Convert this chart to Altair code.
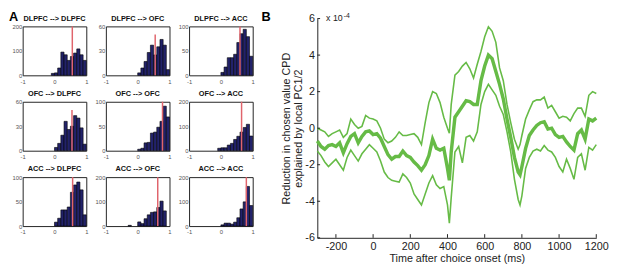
import altair as alt
import pandas as pd

FONT = "Liberation Sans"
NAVY = "#22226a"
RED = "#e0646c"
GREEN = "#66bb46"
AXC = "#222222"

# ---------------- Panel A data ----------------
TITLES = ["DLPFC --> DLPFC", "DLPFC --> OFC", "DLPFC --> ACC",
          "OFC --> DLPFC", "OFC --> OFC", "OFC --> ACC",
          "ACC --> DLPFC", "ACC --> OFC", "ACC --> ACC"]
BIN_STARTS = [-0.3, -0.2, -0.1, 0.0, 0.1, 0.2, 0.3, 0.4, 0.5, 0.6, 0.7, 0.8, 0.9]
BIN_WIDTH = 0.1
COUNTS = [
    [0, 0, 8, 10, 30, 95, 84, 61, 77, 91, 108, 84, 61],
    [0, 0, 0, 3, 9, 17, 28, 37, 25, 35, 44, 37, 7],
    [0, 0, 0, 6, 17, 36, 36, 43, 67, 85, 94, 79, 39],
    [0, 0, 0, 4, 9, 19, 36, 26, 30, 43, 40, 28, 8],
    [0, 0, 0, 3, 5, 16, 17, 36, 38, 48, 60, 91, 69],
    [0, 0, 10, 12, 12, 23, 30, 46, 59, 76, 95, 108, 60],
    [0, 0, 0, 8, 16, 33, 33, 39, 69, 84, 90, 74, 23],
    [3, 0, 0, 17, 10, 30, 46, 56, 58, 76, 102, 62, 0],
    [0, 0, 0, 5, 12, 12, 8, 16, 34, 70, 99, 162, 84],
]
YMAX = [200, 60, 100, 60, 100, 200, 100, 200, 200]
RED_X = [0.56, 0.55, 0.60, 0.55, 0.78, 0.65, 0.57, 0.63, 0.80]
RED_TOP = [200, 50, 100, 50, 100, 200, 100, 200, 200]
HIST_XTICKS = [-1, 0, 1]

# ---------------- Panel B data ----------------
TIME = [-300, -280, -260, -240, -220, -200, -180, -160, -140, -120, -100, -80, -60, -40, -20,
        0, 20, 40, 60, 80, 100, 120, 140, 160, 180, 200, 220, 240, 260, 280, 300, 320, 340,
        360, 380, 400, 410, 420, 440, 460, 480, 500, 520, 540, 560, 580, 600, 620, 640, 660,
        680, 700, 720, 740, 760, 780, 790, 800, 820, 840, 860, 880, 900, 920, 940, 960, 980,
        1000, 1020, 1040, 1060, 1080, 1100, 1120, 1140, 1160, 1180, 1200]
MEAN = [-0.7, -1.0, -1.15, -0.95, -0.9, -1.0, -0.8, -1.35, -0.85, -0.45, -0.3, -0.8, -0.45, -0.2, -0.15,
        -0.35, -0.3, -0.55, -1.0, -1.45, -1.7, -1.55, -1.55, -1.25, -1.5, -1.6, -1.85, -2.05, -2.3, -2.0,
        -1.5, -0.6, -1.1, -1.2, -1.1, -2.2, -2.85, -1.3, 0.6, 0.9, 1.2, 1.5, 1.45, 1.3, 1.3, 2.6, 3.4,
        4.0, 3.8, 3.1, 2.4, 1.6, 0.5, -0.5, -1.6, -2.4, -2.55, -2.1, -1.1, -0.4, -0.1, 0.15, 0.3, 0.35,
        -0.05, 0.0, -0.35, -0.5, -0.45, -0.75, -1.0, -1.2, -0.3, -0.1, -0.6, 0.5, 0.4, 0.55]
UPPER = [0.0, -0.1, -0.2, -0.45, -0.3, -0.2, -0.1, -0.5, -0.3, 0.5, 0.2, 0.0, 0.1, 0.7, 0.55,
         0.5, 0.4, 0.0, -0.6, -0.8, -0.7, -0.5, -0.2, -0.4, -0.4, -0.35, -0.3, -0.5, -0.9, 0.3,
         1.4, 2.0, 1.9, 1.4, 0.6, 0.0, -0.27, 1.3, 2.9, 3.1, 3.4, 3.6, 3.25, 2.75, 3.5, 4.2, 5.0,
         5.55, 5.3, 4.7, 3.3, 2.6, 1.3, 0.3, -0.6, -1.15, -0.9, -0.4, 0.5, 1.0, 1.45, 1.55, 1.55, 1.7,
         1.1, 1.25, 0.9, 0.55, 0.65, 0.6, 0.4, 0.8, 1.1, 1.1, 0.65, 1.8, 2.0, 1.9]
LOWER = [-1.25, -1.5, -1.85, -2.1, -1.9, -1.7, -2.0, -2.3, -1.6, -1.2, -1.5, -1.8, -1.4, -1.15, -0.9,
         -1.1, -1.3, -1.8, -2.4, -2.7, -2.85, -2.9, -2.95, -2.5, -2.7, -3.0, -3.6, -3.9, -4.2, -3.6,
         -3.0, -2.6, -3.1, -3.3, -3.2, -4.2, -5.2, -3.8, -1.3, -1.0, -1.9, -0.5, -0.4, -0.7, -0.2, 1.3, 2.0,
         2.4, 2.1, 1.8, 1.2, 0.75, -0.2, -1.3, -2.8, -3.9, -4.2, -3.7, -2.2, -1.6, -1.25, -1.15, -1.25, -0.95,
         -1.2, -1.3, -1.6, -2.1, -2.4, -1.7, -2.2, -2.8, -1.6, -1.4, -2.3, -1.05, -1.2, -0.9]
B_XTICKS = [-200, 0, 200, 400, 600, 800, 1000, 1200]
B_YTICKS = [-6, -4, -2, 0, 2, 4, 6]
PANEL_LABELS = ["A", "B"]
EXPONENT = ["x 10", "-4"]

HW, HH = 65, 50


def hist(i):
    df = pd.DataFrame({"start": BIN_STARTS, "count": COUNTS[i]})
    ymax = YMAX[i]
    bars = (
        alt.Chart(df)
        .transform_filter("datum.count > 0")
        .transform_calculate(end=f"datum.start + {BIN_WIDTH}", base="0")
        .mark_bar(color=NAVY, stroke="#000000", strokeWidth=0.6)
        .encode(
            x=alt.X("start:Q", scale=alt.Scale(domain=[-1, 1], nice=False, zero=False),
                    axis=alt.Axis(values=HIST_XTICKS, title=None, labelFlush=False, ticks=False,
                                  domain=False, grid=False, labelFontSize=6, labelColor="#555",
                                  labelPadding=3, labelFont=FONT, labelOverlap=False,
                                  tickCount=len(HIST_XTICKS), labelExpr="'' + datum.value")),
            x2="end:Q",
            y=alt.Y("count:Q", scale=alt.Scale(domain=[0, ymax], nice=False),
                    axis=alt.Axis(values=[0, ymax // 2, ymax], title=None, ticks=False, domain=False,
                                  grid=False, labelFontSize=6, labelColor="#555", labelPadding=1,
                                  labelFont=FONT, labelOverlap=False, tickCount=3, format="d")),
            y2="base:Q",
        )
    )
    rdf = pd.DataFrame({"start": [RED_X[i]], "count": [0], "top": [RED_TOP[i]]})
    red = alt.Chart(rdf).mark_rule(color=RED, strokeWidth=1.5).encode(
        x="start:Q", y="count:Q", y2="top:Q")
    ttl = alt.Chart(pd.DataFrame({"t": [TITLES[i]]})).mark_text(
        font=FONT, fontSize=7.5, fontWeight="bold", align="center", baseline="alphabetic",
        color="#111").encode(text="t:N", x=alt.value(HW / 2), y=alt.value(-6))
    layers = [bars, red, ttl]
    if i == 0:
        lab = alt.Chart(pd.DataFrame({"t": [PANEL_LABELS[0]]})).mark_text(
            font=FONT, fontSize=13, fontWeight="bold", align="left", baseline="top", color="#000"
        ).encode(text="t:N", x=alt.value(-14), y=alt.value(-15))
        layers.append(lab)
    return alt.layer(*layers).properties(
        width=HW, height=HH,
        view=alt.ViewBackground(stroke="#222", strokeWidth=1),
    )


grid = alt.concat(*[hist(i) for i in range(9)], columns=3,
                  spacing={"row": 27, "column": 20}, bounds="flush")
spacer = alt.Chart(pd.DataFrame({"t": [""]})).mark_text().encode(text="t:N").properties(
    width=1, height=1)
panel_a = alt.vconcat(spacer, grid, spacing=7, bounds="flush")

# ---------------- Panel B ----------------
bdf = pd.DataFrame({"t": TIME, "mean": MEAN, "upper": UPPER, "lower": LOWER})
XSC = alt.Scale(domain=[-300, 1200], nice=False, zero=False)
YSC = alt.Scale(domain=[-6, 6], nice=False)
XAX = alt.Axis(values=B_XTICKS, tickCount=len(B_XTICKS), title="Time after choice onset (ms)",
               ticks=False, grid=False,
               domainColor=AXC, domainWidth=1, labelFontSize=11, labelColor=AXC, labelFont=FONT,
               titleFont=FONT, titleFontSize=11, titleFontWeight="normal", titleColor=AXC,
               labelPadding=3, titlePadding=1, labelFlush=False, labelOverlap=False,
               labelExpr="'' + datum.value")
YAX = alt.Axis(values=B_YTICKS, tickCount=len(B_YTICKS),
               title=["Reduction in chosen value CPD", "explained  by local PC1/2"],
               ticks=False, grid=False, domainColor=AXC, domainWidth=1, labelFontSize=11,
               labelColor=AXC, labelFont=FONT, titleFont=FONT, titleFontSize=11,
               titleFontWeight="normal", titleColor=AXC, labelPadding=3, titlePadding=1,
               titleLineHeight=13, labelOverlap=False, labelExpr="'' + datum.value")

base = alt.Chart(bdf)
mean_line = base.mark_line(color=GREEN, strokeWidth=3.5).encode(
    x=alt.X("t:Q", scale=XSC, axis=XAX), y=alt.Y("mean:Q", scale=YSC, axis=YAX))
ci_lines = base.transform_fold(["upper", "lower"], as_=["series", "value"]).mark_line(
    color=GREEN, strokeWidth=1.6).encode(x="t:Q", y="value:Q", detail="series:N")

TICK_Y = (-6, -5.8)
TICK_X = (-300, -285)
xt = alt.Chart(pd.DataFrame({"t": B_XTICKS})).transform_calculate(
    a=str(TICK_Y[0]), b=str(TICK_Y[1])).mark_rule(color=AXC, strokeWidth=1).encode(
    x="t:Q", y="a:Q", y2="b:Q")
yt = alt.Chart(pd.DataFrame({"v": B_YTICKS})).transform_calculate(
    a=str(TICK_X[0]), b=str(TICK_X[1])).mark_rule(color=AXC, strokeWidth=1).encode(
    y="v:Q", x="a:Q", x2="b:Q")

blab = alt.Chart(pd.DataFrame({"t": [PANEL_LABELS[1]]})).mark_text(
    font=FONT, fontSize=13, fontWeight="bold", align="left", baseline="top", color="#000"
).encode(text="t:N", x=alt.value(-57), y=alt.value(-7))
exp1 = alt.Chart(pd.DataFrame({"t": [EXPONENT[0]]})).mark_text(
    font=FONT, fontSize=9, align="left", baseline="alphabetic", color=AXC
).encode(text="t:N", x=alt.value(9), y=alt.value(2))
exp2 = alt.Chart(pd.DataFrame({"t": [EXPONENT[1]]})).mark_text(
    font=FONT, fontSize=7, align="left", baseline="top", color=AXC
).encode(text="t:N", x=alt.value(27), y=alt.value(-7))

panel_b = alt.layer(mean_line, ci_lines, xt, yt, blab, exp1, exp2).properties(width=285, height=224)

chart = alt.hconcat(panel_a, panel_b, spacing=6).properties(padding=0).configure(
    font=FONT).configure_view(stroke=None)

chart.save("out.html", embed_options={"renderer": "svg", "actions": False})
